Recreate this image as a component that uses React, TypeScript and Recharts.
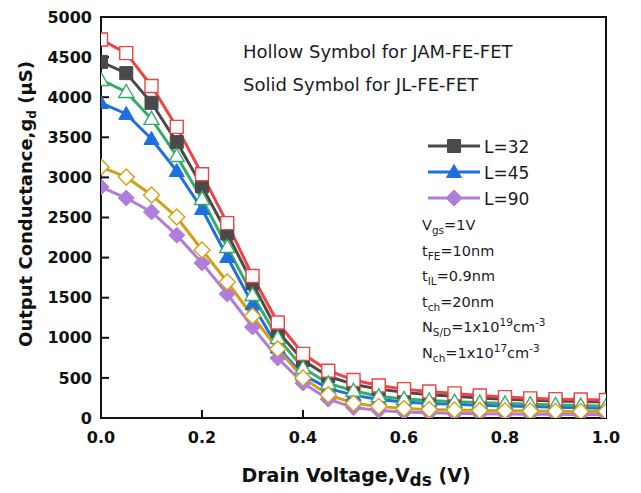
import React from 'react';
import { LineChart, Line, XAxis, YAxis, ReferenceArea } from 'recharts';

// Drain voltage sweep (V)
const vds = [0, 0.05, 0.1, 0.15, 0.2, 0.25, 0.3, 0.35, 0.4, 0.45, 0.5, 0.55, 0.6, 0.65, 0.7, 0.75, 0.8, 0.85, 0.9, 0.95, 1.0];
const xTicks = [0, 0.2, 0.4, 0.6, 0.8, 1.0];
const yTicks = [0, 500, 1000, 1500, 2000, 2500, 3000, 3500, 4000, 4500, 5000];

// Output conductance g_d (µS), junction-accumulation-mode devices (hollow symbols)
const jamL32 = [4720, 4550, 4140, 3630, 3040, 2430, 1770, 1190, 800, 590, 474, 405, 360, 330, 307, 280, 260, 245, 235, 230, 224];
const jamL45 = [4215, 4065, 3730, 3267, 2731, 2132, 1534, 998, 624, 432, 340, 272, 238, 218, 203, 192, 182, 172, 163, 155, 148];
const jamL90 = [3130, 3005, 2781, 2506, 2095, 1696, 1272, 860, 499, 290, 185, 145, 118, 106, 100, 95, 90, 87, 84, 82, 80];

// Output conductance g_d (µS), junctionless devices (solid symbols)
const jlL32 = [4440, 4300, 3930, 3440, 2890, 2300, 1680, 1080, 720, 520, 420, 360, 320, 290, 270, 250, 235, 222, 212, 205, 198];
const jlL45 = [3928, 3791, 3479, 3080, 2606, 2008, 1420, 880, 540, 370, 285, 230, 200, 182, 170, 160, 150, 142, 135, 128, 122];
const jlL90 = [2880, 2743, 2569, 2280, 1933, 1546, 1135, 748, 436, 235, 130, 95, 75, 65, 58, 54, 50, 48, 46, 44, 42];

const legendLabels = ['L=32', 'L=45', 'L=90'];

const rows = vds.map((v, i) => ({
  v,
  jamL32: jamL32[i],
  jamL45: jamL45[i],
  jamL90: jamL90[i],
  jlL32: jlL32[i],
  jlL45: jlL45[i],
  jlL90: jlL90[i],
}));

type Shape = 'square' | 'triangle' | 'diamond';

const SERIES: { key: string; color: string; shape: Shape; hollow: boolean }[] = [
  { key: 'jlL32', color: '#4a4a4a', shape: 'square', hollow: false },
  { key: 'jlL45', color: '#1f6fe0', shape: 'triangle', hollow: false },
  { key: 'jlL90', color: '#b17ddc', shape: 'diamond', hollow: false },
  { key: 'jamL32', color: '#f04343', shape: 'square', hollow: true },
  { key: 'jamL45', color: '#34ad68', shape: 'triangle', hollow: true },
  { key: 'jamL90', color: '#d4a012', shape: 'diamond', hollow: true },
];

const FONT = 'DejaVu Sans';

function markerPath(shape: Shape, cx: number, cy: number): string {
  if (shape === 'square') {
    const h = 6.5;
    return `M${cx - h},${cy - h}H${cx + h}V${cy + h}H${cx - h}Z`;
  }
  if (shape === 'triangle') {
    return `M${cx},${cy - 7.5}L${cx + 7.5},${cy + 5.5}L${cx - 7.5},${cy + 5.5}Z`;
  }
  const d = 8;
  return `M${cx},${cy - d}L${cx + d},${cy}L${cx},${cy + d}L${cx - d},${cy}Z`;
}

function makeDot(shape: Shape, color: string, hollow: boolean) {
  return (p: any) => {
    if (p.cx == null || p.cy == null) return <g key={p.index} />;
    return (
      <path
        key={p.index}
        d={markerPath(shape, p.cx, p.cy)}
        fill={hollow ? '#ffffff' : color}
        stroke={color}
        strokeWidth={hollow ? 1.4 : 1}
      />
    );
  };
}

const legendItems = [
  { color: '#4a4a4a', shape: 'square' as Shape },
  { color: '#1f6fe0', shape: 'triangle' as Shape },
  { color: '#b17ddc', shape: 'diamond' as Shape },
];

function Overlay() {
  const txt = '#1c1c24';
  const sub = { fontSize: 10.5 };
  return (
    <svg
      width={641}
      height={493}
      style={{ position: 'absolute', left: 0, top: 0, pointerEvents: 'none' }}
      fontFamily={FONT}
    >
      <text x={243} y={58} fontSize={18} fill={txt}>Hollow Symbol for JAM-FE-FET</text>
      <text x={243} y={91} fontSize={18} fill={txt}>Solid Symbol for JL-FE-FET</text>

      {legendItems.map((it, i) => {
        const y = 146 + i * 26;
        return (
          <g key={i}>
            <line x1={428} x2={480} y1={y} y2={y} stroke={it.color} strokeWidth={3} />
            <path d={markerPath(it.shape, 454, y)} fill={it.color} stroke={it.color} />
            <text x={484} y={y + 7} fontSize={17} fill={txt}>{legendLabels[i]}</text>
          </g>
        );
      })}

      <g fontSize={14.5} fill={txt}>
        <text x={422} y={230}>
          V<tspan {...sub} dy={4}>gs</tspan><tspan dy={-4}>=1V</tspan>
        </text>
        <text x={422} y={256}>
          t<tspan {...sub} dy={4}>FE</tspan><tspan dy={-4}>=10nm</tspan>
        </text>
        <text x={422} y={281}>
          t<tspan {...sub} dy={4}>IL</tspan><tspan dy={-4}>=0.9nm</tspan>
        </text>
        <text x={422} y={307}>
          t<tspan {...sub} dy={4}>ch</tspan><tspan dy={-4}>=20nm</tspan>
        </text>
        <text x={422} y={332}>
          N<tspan {...sub} dy={4}>S/D</tspan><tspan dy={-4}>=1x10</tspan>
          <tspan {...sub} dy={-6}>19</tspan><tspan dy={6}>cm</tspan>
          <tspan {...sub} dy={-6}>-3</tspan>
        </text>
        <text x={422} y={358}>
          N<tspan {...sub} dy={4}>ch</tspan><tspan dy={-4}>=1x10</tspan>
          <tspan {...sub} dy={-6}>17</tspan><tspan dy={6}>cm</tspan>
          <tspan {...sub} dy={-6}>-3</tspan>
        </text>
      </g>

      <text x={356} y={482} fontSize={19} fontWeight="bold" fill="#111" textAnchor="middle">
        Drain Voltage,V<tspan fontSize={17} dy={4}>ds</tspan><tspan dy={-4}> (V)</tspan>
      </text>

      <text
        x={0}
        y={0}
        transform="translate(32,204) rotate(-90)"
        fontSize={18}
        fontWeight="bold"
        fill="#111"
        textAnchor="middle"
      >
        Output Conductance,g<tspan fontSize={12} dy={4}>d</tspan><tspan dy={-4}> (μS)</tspan>
      </text>
    </svg>
  );
}

export default function App() {
  const tickStyle = { fontFamily: FONT, fontWeight: 'bold', fontSize: 16, fill: '#111' };
  return (
    <div style={{ position: 'absolute', left: 0, top: 0, width: 641, height: 493, background: '#fff' }}>
      <LineChart width={641} height={493} data={rows} margin={{ top: 17, right: 35, bottom: 0, left: 41 }}>
        <XAxis
          type="number"
          dataKey="v"
          domain={[0, 1]}
          ticks={xTicks}
          tickFormatter={(t: number) => t.toFixed(1)}
          height={75}
          tickSize={-8}
          tickMargin={22}
          tick={tickStyle}
          stroke="#111"
          strokeWidth={2}
          allowDataOverflow
        />
        <YAxis
          type="number"
          domain={[0, 5000]}
          ticks={yTicks}
          width={60}
          tickSize={-8}
          tickMargin={17}
          tick={tickStyle}
          stroke="#111"
          strokeWidth={2}
          allowDataOverflow
        />
        <ReferenceArea x1={0} x2={1} y1={0} y2={5000} fill="none" stroke="#111" strokeWidth={2} fillOpacity={0} />
        {SERIES.map((s) => (
          <Line
            key={s.key}
            dataKey={s.key}
            type="linear"
            stroke={s.color}
            strokeWidth={3}
            dot={makeDot(s.shape, s.color, s.hollow)}
            isAnimationActive={false}
          />
        ))}
      </LineChart>
      <Overlay />
    </div>
  );
}
